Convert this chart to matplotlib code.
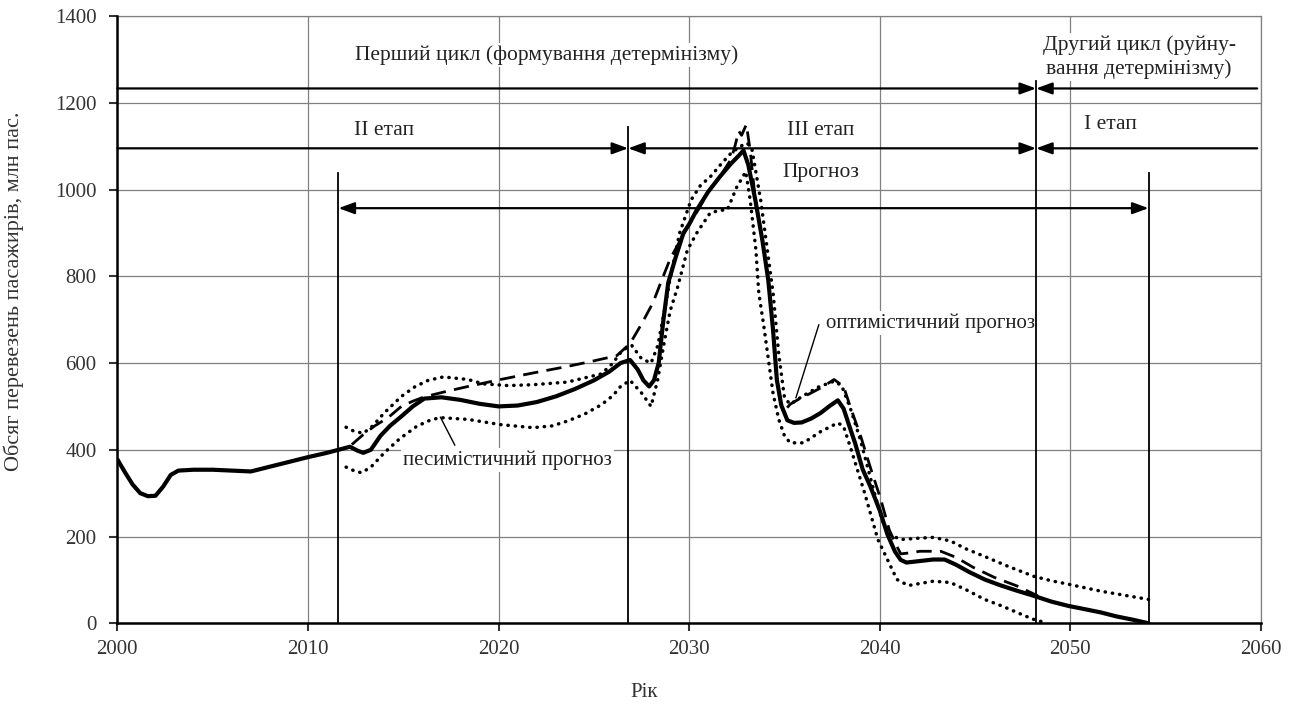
import matplotlib
matplotlib.use("Agg")
import matplotlib.pyplot as plt

plt.rcParams['font.family'] = ['Liberation Serif', 'DejaVu Serif']

# --- base trajectory (actual + base forecast), mln passengers ---
base_years = [2000, 2000.4, 2000.8, 2001.2, 2001.6, 2002.0, 2002.4, 2002.8, 2003.2,
              2004, 2005, 2006, 2007, 2008, 2009, 2010, 2011, 2011.6, 2012.2, 2012.6,
              2012.9, 2013.3, 2013.8, 2014.3, 2014.9, 2015.5, 2016.1, 2017.0, 2018,
              2019, 2020, 2021, 2022, 2023, 2024, 2025, 2025.8, 2026.4, 2026.9,
              2027.3, 2027.6, 2027.9, 2028.15, 2028.4, 2028.65, 2028.9, 2029.3,
              2029.7, 2030.0, 2030.4, 2031.0, 2031.6, 2032.2, 2032.6, 2032.85,
              2033.1, 2033.47, 2033.84, 2034.15, 2034.4, 2034.6, 2034.83, 2035.15,
              2035.5, 2035.9, 2036.4, 2036.9, 2037.4, 2037.8, 2038.1, 2038.4,
              2038.7, 2039.1, 2039.5, 2040.0, 2040.4, 2040.8, 2041.1, 2041.4,
              2042, 2042.8, 2043.4, 2044, 2044.7, 2045.5, 2046.3, 2047.2, 2048.1,
              2049, 2049.9, 2050.7, 2051.6, 2052.4, 2053.3, 2054.1]
base_vals = [378, 348, 320, 300, 293, 294, 315, 342, 352,
             354, 354, 352, 350, 361, 372, 383, 393, 400, 407, 398,
             393, 400, 432, 455, 477, 500, 518, 521, 515,
             506, 500, 502, 510, 523, 540, 560, 580, 600, 607,
             585, 560, 546, 560, 600, 700, 785, 845,
             900, 920, 953, 995, 1029, 1060, 1078, 1090,
             1057, 976, 883, 791, 676, 561, 503, 468,
             462, 463, 472, 485, 502, 514, 495, 455,
             416, 355, 316, 260, 205, 165, 146, 140,
             143, 147, 147, 135, 118, 101, 88, 75, 63,
             50, 40, 33, 25, 16, 8, 0]

# --- optimistic forecast ---
opt_years = [2012.3, 2012.9, 2013.5, 2014.2, 2014.9, 2015.5, 2016.1, 2017.3, 2018.4,
             2020.1, 2021.8, 2023.6, 2025.0, 2026.2, 2026.9, 2027.5, 2028.1, 2028.55,
             2029.0, 2029.5, 2030.0, 2030.5, 2031.0, 2031.6, 2032.2, 2032.4, 2032.6,
             2032.75, 2033.0, 2033.2, 2033.47, 2033.84, 2034.15, 2034.4, 2034.6,
             2034.83, 2035.1, 2035.3, 2035.8, 2036.4, 2037.0, 2037.6, 2038.1, 2038.5,
             2039.0, 2039.5, 2040.05, 2040.5, 2040.9, 2041.1, 2041.5, 2042.1, 2043.2,
             2044.0, 2044.9, 2046.0, 2047.2, 2048.3]
opt_vals = [412, 435, 455, 474, 500, 512, 522, 535, 546,
            562, 577, 592, 605, 617, 645, 690, 739, 790,
            840, 880, 920, 955, 995, 1029, 1070, 1100, 1135,
            1125, 1150, 1090, 976, 883, 791, 676, 561,
            503, 495, 505, 518, 531, 545, 562, 546, 493,
            431, 360, 286, 215, 177, 160, 162, 166, 166,
            152, 129, 106, 86, 63]

# --- upper bound of the forecast range ---
up_years = [2012.0, 2012.4, 2012.9, 2013.4, 2014.0, 2014.9, 2015.6, 2016.3, 2017.1,
            2018.4, 2019.2, 2020.5, 2021.8, 2023.6, 2025.4, 2026.0, 2026.5, 2027.0,
            2027.5, 2028.0, 2028.35, 2028.7, 2029.0, 2029.5, 2030.1, 2030.6, 2031.1,
            2031.7, 2032.2, 2032.7, 2033.05, 2033.3, 2033.75, 2034.1, 2034.4, 2034.7,
            2035.0, 2035.3, 2036.0, 2036.8, 2037.6, 2038.0, 2038.5, 2039.0, 2039.6,
            2040.1, 2040.5, 2041.1, 2042.0, 2042.8, 2043.7, 2044.5, 2045.5, 2046.8,
            2048.1, 2049.0, 2049.9, 2051.6, 2054.1]
up_vals = [452, 443, 438, 455, 485, 523, 545, 560, 568,
           562, 552, 548, 550, 556, 575, 600, 630, 640,
           610, 600, 640, 720, 795, 900, 976, 1010, 1029,
           1060, 1084, 1100, 1107, 1091, 976, 861, 762, 620,
           520, 505, 525, 545, 558, 548, 490, 420, 320,
           240, 205, 193, 196, 198, 190, 172, 154, 130,
           108, 98, 90, 74, 55]

# --- lower bound of the forecast range ---
low_years = [2012.0, 2012.4, 2012.8, 2013.3, 2014.0, 2014.8, 2015.7, 2016.5, 2017.0,
             2018.4, 2020.1, 2021.8, 2022.8, 2023.6, 2024.5, 2025.4, 2026.0, 2026.4,
             2026.9, 2027.5, 2028.0, 2028.35, 2028.7, 2029.0, 2029.4, 2029.9, 2030.4,
             2031.1, 2031.6, 2032.0, 2032.5, 2032.97, 2033.2, 2033.5, 2033.65, 2033.9,
             2034.15, 2034.4, 2034.7, 2035.0, 2035.3, 2036.0, 2036.9, 2037.8, 2038.1,
             2038.5, 2039.2, 2039.9, 2040.4, 2040.9, 2041.5, 2042.8, 2043.7, 2044.5,
             2045.5, 2046.4, 2047.2, 2048.0, 2048.8]
low_vals = [360, 352, 347, 360, 393, 425, 454, 470, 474,
            470, 458, 451, 455, 466, 482, 504, 525, 546,
            560, 531, 500, 562, 650, 720, 776, 860, 900,
            946, 952, 953, 1006, 1041, 976, 861, 762, 690,
            610, 530, 470, 432, 416, 416, 442, 462, 454,
            400, 301, 193, 147, 101, 87, 97, 94, 78,
            55, 40, 25, 10, 0]

# stage boundaries (year, height of the marker line)
bounds = [2011.6, 2026.8, 2048.2, 2054.1]
bound_tops = [1038, 1145, 1250, 1038]

cycle_level = 1233
stage_level = 1095
forecast_level = 957

fig = plt.figure(figsize=(12.94, 7.09), dpi=100)
ax = fig.add_axes([0.0907, 0.1209, 0.8838, 0.8565])

ax.set_xlim(2000, 2060)
ax.set_ylim(0, 1400)
ax.set_xticks(range(2000, 2061, 10))
ax.set_yticks(range(0, 1401, 200))
ax.grid(True, color='#808080', lw=0.9)
ax.set_axisbelow(True)

for s in ('left', 'bottom'):
    ax.spines[s].set_linewidth(1.8)
    ax.spines[s].set_color('black')
    ax.spines[s].set_zorder(6)
for s in ('top', 'right'):
    ax.spines[s].set_linewidth(0.9)
    ax.spines[s].set_color('#808080')

ax.tick_params(direction='out', length=6, width=1.5, labelsize=15,
               colors='#333333', pad=6)
ax.tick_params(axis='y', pad=9)

# forecast curves
ax.plot(low_years, low_vals, color='black', lw=2.5, ls=(0, (0.1, 2.0)),
        dash_capstyle='round', zorder=4)
ax.plot(up_years, up_vals, color='black', lw=2.5, ls=(0, (0.1, 2.0)),
        dash_capstyle='round', zorder=4)
ax.plot(opt_years, opt_vals, color='black', lw=2.0, ls=(0, (5.5, 3)), zorder=4)
ax.plot(base_years, base_vals, color='black', lw=3.0, solid_capstyle='round',
        solid_joinstyle='round', zorder=5)

# stage boundary lines
for bx, top in zip(bounds, bound_tops):
    ax.plot([bx, bx], [0, top], color='black', lw=1.3, zorder=5)

head = '-|>,head_length=0.6,head_width=0.22'
dhead = '<|-|>,head_length=0.6,head_width=0.22'

def arrow(x0, x1, y, style):
    ax.annotate('', xy=(x1, y), xytext=(x0, y),
                arrowprops=dict(arrowstyle=style, color='black', lw=1.6,
                                mutation_scale=16, shrinkA=0, shrinkB=0),
                zorder=6)

# cycles
arrow(2000, bounds[2], cycle_level, head)
arrow(2059.8, bounds[2], cycle_level, head)
# stages
arrow(2000, bounds[1], stage_level, head)
arrow(bounds[1], bounds[2], stage_level, dhead)
arrow(2059.8, bounds[2], stage_level, head)
# forecast horizon
arrow(bounds[0], bounds[3], forecast_level, dhead)

box = dict(facecolor='white', edgecolor='none', pad=1.5)
tkw = dict(fontsize=15.5, color='#222222', ha='center', va='center', zorder=3, bbox=box)
ax.text(2022.5, 1310, 'Перший цикл (формування детермінізму)', **tkw)
ax.text(2053.6, 1306, 'Другий цикл (руйну-\nвання детермінізму)',
        linespacing=1.3, **tkw)
ax.text(2014.0, 1135, 'II етап', **tkw)
ax.text(2036.9, 1137, 'III етап', **tkw)
ax.text(2052.1, 1150, 'I етап', **tkw)
ax.text(2036.9, 1040, 'Прогноз', **tkw)

lkw = dict(fontsize=15, color='#222222', ha='left', va='center', zorder=3, bbox=box)
ax.text(2037.2, 692, 'оптимістичний прогноз', **lkw)
ax.plot([2036.8, 2035.6], [688, 520], color='black', lw=1.0, zorder=5)
ax.text(2015.0, 377, 'песимістичний прогноз', **lkw)
ax.plot([2016.95, 2017.7], [475, 411], color='black', lw=1.0, zorder=5)

ax.set_xlabel('Рік', fontsize=15, color='#333333')
ax.xaxis.set_label_coords(0.461, -0.098)
ax.set_ylabel('Обсяг перевезень пасажирів, млн пас.', fontsize=16, color='#333333')
ax.yaxis.set_label_coords(-0.0816, 0.547)

fig.savefig('out.png', dpi=100)
